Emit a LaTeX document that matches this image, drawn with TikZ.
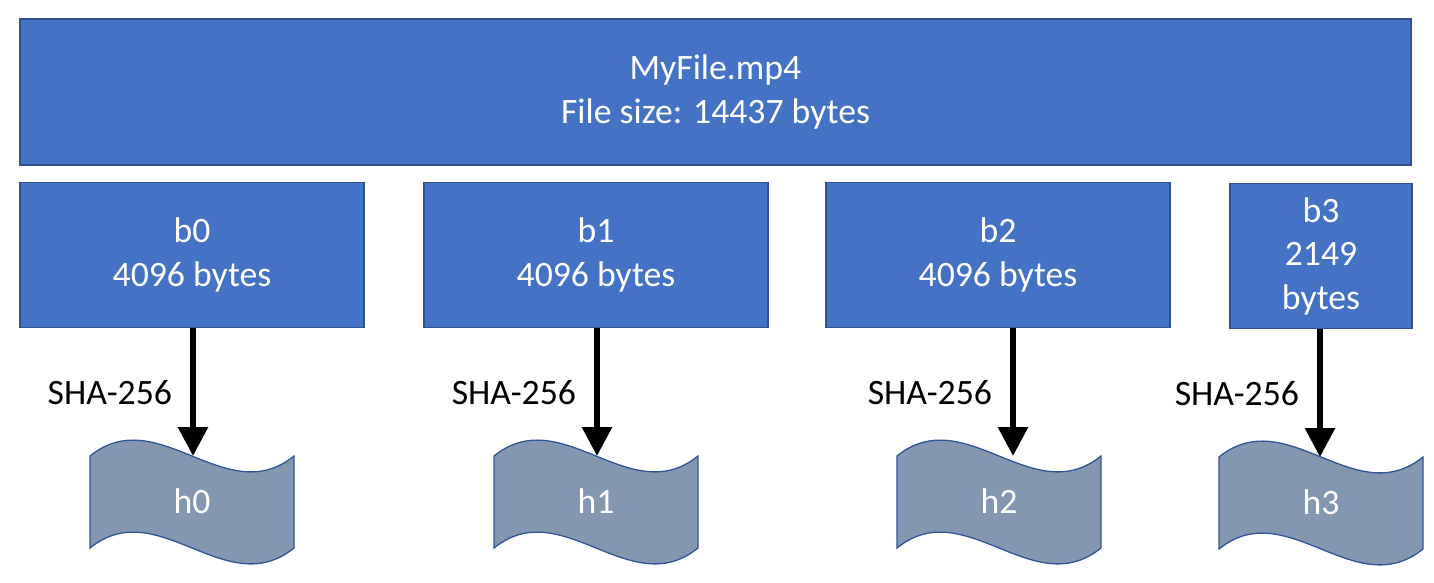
\documentclass[tikz,border=0pt]{standalone}
\usepackage{fontspec}
\setmainfont{Carlito}
\usetikzlibrary{arrows.meta}
\definecolor{boxblue}{HTML}{4472C4}
\definecolor{boxedge}{HTML}{2F528F}
\definecolor{tapefill}{HTML}{8497B0}
\definecolor{tapeedge}{HTML}{2F5597}
\newcommand\dfont{\fontsize{35.7pt}{43.5pt}\selectfont}

% punched-tape symbol: #1 name, #2 left x, #3 top y, #4 label
\newcommand\tapesym[4]{%
  \begin{scope}[shift={(#2,#3)}]
    \draw[tape] (0,0) .. controls (68,-55) and (136,55) .. (204,0)
      -- (204,92) .. controls (136,147) and (68,37) .. (0,92) -- cycle;
    \node[tapetext] (#1) at (102,45) {#4};
    \coordinate (#1top) at (102,0);
  \end{scope}}

\begin{document}
\begin{tikzpicture}[x=1pt,y=-1pt,
  blk/.style={draw=boxedge, line width=1.3pt, fill=boxblue, text=white,
    align=center, font=\dfont, inner sep=0pt},
  tape/.style={draw=tapeedge, line width=1.3pt, fill=tapefill},
  tapetext/.style={text=white, font=\dfont, inner sep=0pt},
  hasharrow/.style={line width=6pt, -{Triangle[length=29pt,width=29pt]}},
  hashlbl/.style={anchor=east, pos=0.5, xshift=-18pt, inner sep=0pt,
    font=\dfont, text=black}]
\useasboundingbox (0,0) rectangle (1434,582);

% whole file
\node[blk, minimum width=1391pt, minimum height=146pt] (file) at (715.5,92)
  {MyFile.mp4\\File size: 14437 bytes};

% blocks
\node[blk, minimum width=344pt, minimum height=145pt] (b0) at (192,255) {b0\\4096 bytes};
\node[blk, minimum width=344pt, minimum height=145pt] (b1) at (596,255) {b1\\4096 bytes};
\node[blk, minimum width=344pt, minimum height=145pt] (b2) at (998,255) {b2\\4096 bytes};
\node[blk, minimum width=182pt, minimum height=145pt] (b3) at (1321,256) {b3\\2149\\bytes};

% hashes
\tapesym{h0}{90}{456}{h0}
\tapesym{h1}{494}{456}{h1}
\tapesym{h2}{897}{456}{h2}
\tapesym{h3}{1219}{457}{h3}

% hashing arrows
\draw[hasharrow] ([xshift=1pt]b0.south) -- node[hashlbl] {SHA-256} ([xshift=1pt]h0top);
\draw[hasharrow] ([xshift=1pt]b1.south) -- node[hashlbl] {SHA-256} ([xshift=1pt]h1top);
\draw[hasharrow] ([xshift=15pt]b2.south) -- node[hashlbl] {SHA-256} ([xshift=14pt]h2top);
\draw[hasharrow] ([xshift=-1pt]b3.south) -- node[hashlbl] {SHA-256} ([xshift=-1pt]h3top);
\end{tikzpicture}
\end{document}
